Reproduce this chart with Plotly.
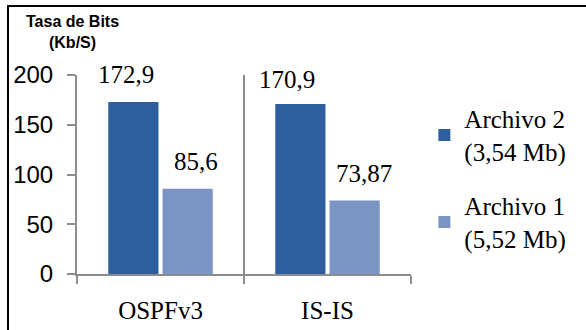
import plotly.graph_objects as go

categories = ["OSPFv3", "IS-IS"]
series_names = ["Archivo 2<br>(3,54 Mb)", "Archivo 1<br>(5,52 Mb)"]
archivo2 = [172.9, 170.9]
archivo1 = [85.6, 73.87]
labels2 = ["172,9", "170,9"]
labels1 = ["85,6", "73,87"]
y_ticks = [0, 50, 100, 150, 200]

colors = ["#2F5E9E", "#7A95C4"]
serif = "Liberation Serif"
sans = "Liberation Sans"

fig = go.Figure()
for name, vals, col, grp in [(series_names[0], archivo2, colors[0], "a"),
                             (series_names[1], archivo1, colors[1], "b")]:
    fig.add_trace(go.Bar(x=categories, y=vals, name=name, marker_color=col,
                         marker_line_width=0, legendgroup=grp))

# value labels
shifts2 = [(-6, 12), (-12, 9)]
shifts1 = [(7, 12), (8, 12)]
for vals, labs, off, sh in [(archivo2, labels2, -0.5, shifts2), (archivo1, labels1, 0.5, shifts1)]:
    for i, (v, t) in enumerate(zip(vals, labs)):
        fig.add_annotation(x=i, y=v, text=t, showarrow=False, xref="x", yref="y",
                           xanchor="center", yanchor="bottom",
                           xshift=off * 57 + sh[i][0], yshift=sh[i][1],
                           font=dict(family=serif, size=25, color="black"))

fig.add_annotation(x=-0.012, y=1.216, xref="paper", yref="paper",
                   text="<b>Tasa de Bits</b><br><b>(Kb/S)</b>", showarrow=False,
                   xanchor="center", yanchor="middle",
                   font=dict(family=sans, size=16, color="black"))

# outer border
fig.add_shape(type="rect", xref="paper", yref="paper",
              x0=-0.2066, x1=2, y0=-1, y1=1.3467,
              line=dict(color="black", width=2), layer="below")

fig.update_layout(
    width=586, height=330,
    margin=dict(l=77, r=175, t=75, b=56, autoexpand=False),
    paper_bgcolor="white", plot_bgcolor="white",
    barmode="group", bargap=0.35, bargroupgap=0.075,
    showlegend=True,
    legend=dict(x=1.04, y=0.895, xanchor="left", yanchor="top",
                font=dict(family=serif, size=25, color="black"),
                traceorder="grouped", tracegroupgap=19,
                bgcolor="rgba(0,0,0,0)"),
    xaxis=dict(type="category", range=[-0.5, 1.5], tickson="boundaries",
               showgrid=True, gridcolor="#8C8C8C", gridwidth=2,
               showline=True, linecolor="#8C8C8C", linewidth=2,
               ticks="outside", ticklen=8, tickcolor="#8C8C8C", tickwidth=2,
               tickfont=dict(family=serif, size=25, color="black"),
               ticklabelstandoff=13),
    yaxis=dict(range=[0, 200], tickvals=y_ticks, showgrid=False, zeroline=False,
               showline=True, linecolor="#8C8C8C", linewidth=2,
               ticks="outside", ticklen=8, tickcolor="#8C8C8C", tickwidth=2,
               tickfont=dict(family=sans, size=24, color="black"),
               ticklabelstandoff=9),
)

fig.write_html("out.html")
